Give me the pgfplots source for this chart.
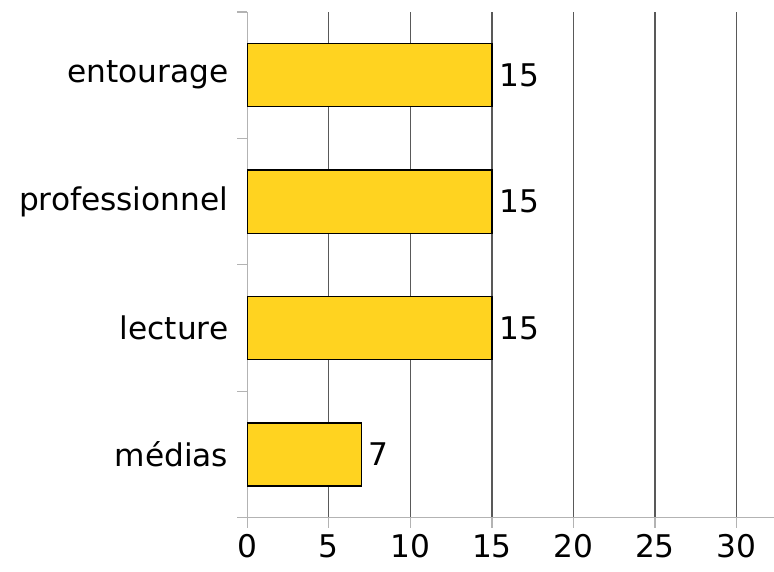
\documentclass[border=0pt]{standalone}
\usepackage{pgfplots}
\pgfplotsset{compat=1.18}
\usepackage{fontspec}
\setmainfont{DejaVu Sans}
\definecolor{baryellow}{HTML}{FFD320}
\definecolor{axisgray}{HTML}{B3B3B3}

\begin{document}
\begin{tikzpicture}
\begin{axis}[
    scale only axis,
    width=263pt, height=252.5pt,
    xbar, bar width=31.5pt,
    xmin=0, xmax=32.3,
    ymin=-0.5, ymax=3.5,
    xtick={0,5,...,30},
    ytick={0,1,2,3},
    yticklabels={médias,lecture,professionnel,entourage},
    minor ytick={-0.5,0.5,1.5,2.5,3.5},
    axis x line*=bottom, axis y line*=left,
    axis line style={axisgray, line width=0.8pt},
    x axis line style={-}, y axis line style={-},
    xmajorgrids, major grid style={black!65, line width=0.6pt},
    tick align=outside,
    major tick length=5pt,
    minor tick length=5pt,
    xtick style={axisgray, line width=0.6pt},
    major y tick style={draw=none},
    minor y tick style={axisgray, line width=0.6pt},
    font=\fontsize{15.6}{18}\selectfont,
    ticklabel style={font=\fontsize{15.6}{18}\selectfont},
    /pgf/number format/assume math mode=true,
    xticklabel style={yshift=0pt},
    yticklabel style={xshift=-1pt},
    nodes near coords,
    nodes near coords style={font=\fontsize{15.6}{18}\selectfont, xshift=0pt},
    clip=false,
]
\addplot[fill=baryellow, draw=black, line width=0.6pt] coordinates {
    (7,0) (15,1) (15,2) (15,3)
};
\end{axis}
\pgfresetboundingbox
\path[use as bounding box] ([xshift=-123.5pt,yshift=-27pt]current axis.south west)
    rectangle ([yshift=6pt]current axis.north east);
\end{tikzpicture}
\end{document}
